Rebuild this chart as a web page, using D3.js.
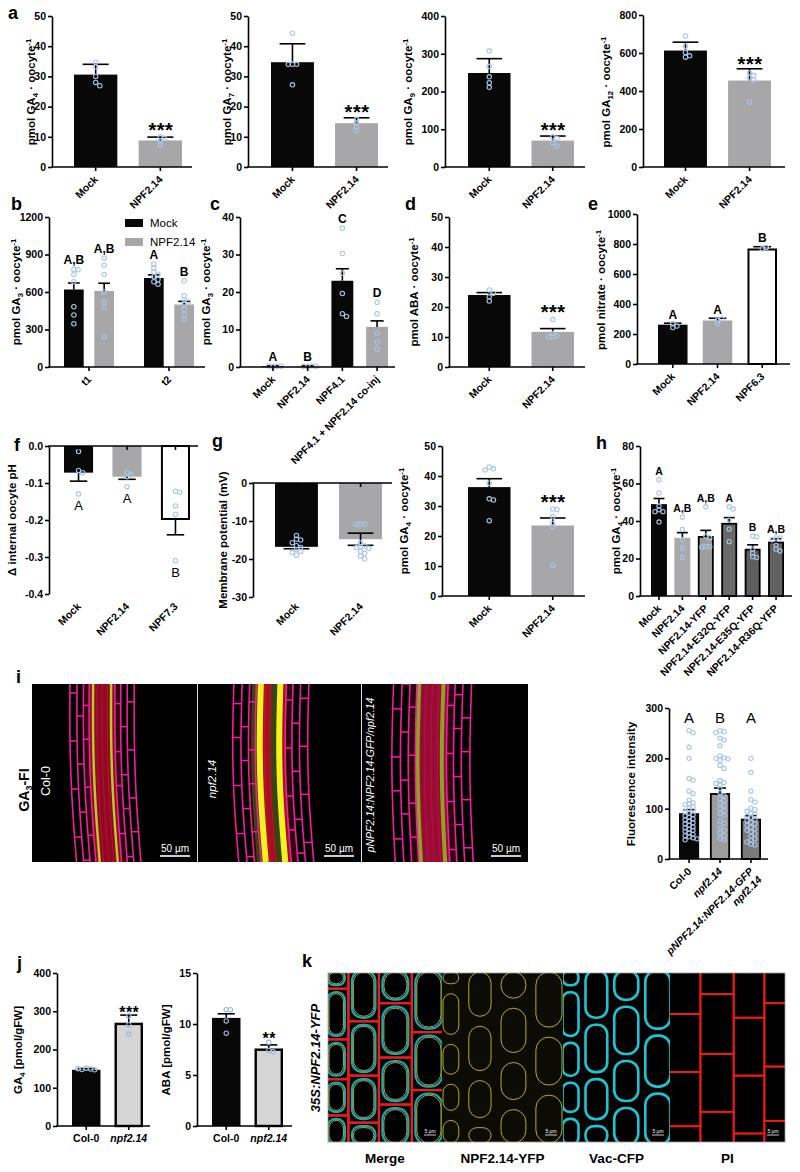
<!DOCTYPE html>
<html><head><meta charset="utf-8">
<script src="https://cdn.jsdelivr.net/npm/d3@7"></script>
<style>body{margin:0;background:#fff}</style>
</head><body><svg id="fig" width="800" height="1172"></svg>
<script>
// ---------------- DATA ----------------
const catsAB = ["Mock","NPF2.14"];
// panel a
const aGA4Means=[30.6,8.8], aGA4Err=[34,9.9], aGA4Dots=[[34.6,33.2,30,28,26.9],[10,9.5,8.7,7.3]];
const aGA7Means=[34.7,14.5], aGA7Err=[40.8,16.3], aGA7Dots=[[44.3,34,34,34,27.2],[15.8,14.6,13.3,12.1]];
const aGA9Means=[249,70], aGA9Err=[287,82], aGA9Dots=[[307,266,239,223,211],[80,76,64,55]];
const aGA12Means=[613,455], aGA12Err=[657,517], aGA12Dots=[[690,636,603,585,578],[495,481,470,458,342]];
// panel b
const bTimes=["t1","t2"], bSeries=["Mock","NPF2.14"];
const bMeans=[[620,608],[712,500]], bErr=[[672,670],[737,525]];
const bDots=[[[780,778,740,682,482,416,346],[870,815,740,600,520,480,245]],
             [[825,790,760,742,722,700,682,662],[690,570,540,520,500,460,420,380]]];
const bLetters=[["A,B","A,B"],["A","B"]];
// panel c
const cCats=["Mock","NPF2.14","NPF4.1","NPF4.1 + NPF2.14 co-inj"];
const cMeans=[0.2,0.2,23,10.7], cErr=[0.3,0.3,26.2,12.3];
const cDots=[[0.1,0.2,0.3,0.2],[0.1,0.3,0.2,0.2],[37,30.3,25,19.6,14.2,13.5],[17.2,14.2,9,6.6,4.8]];
const cLetters=["A","B","C","D"];
// panel d
const dMeans=[24,11.7], dErr=[24.8,12.8], dDots=[[25.7,24.6,23.4,22],[15.8,11.2,10.4,10.1,9.9]];
// panel e
const eCats=["Mock","NPF2.14","NPF6.3"];
const eMeans=[262,290,770], eErr=[272,305,782], eDots=[[243,253,268],[268,292,300],[768,776]];
const eLetters=["A","A","B"];
// panel f
const fCats=["Mock","NPF2.14","NPF7.3"];
const fMeans=[-0.072,-0.083,-0.2], fErr=[-0.095,-0.09,-0.24];
const fDots=[[-0.015,-0.066,-0.072,-0.13],[-0.072,-0.078,-0.083,-0.11],[-0.122,-0.125,-0.162,-0.185,-0.31]];
const fLetters=["A","A","B"];
// panel g
const gMeans=[-16.8,-14.8], gErrLo=[-17.3,-16.4], gErrHi=[-16.3,-13.2];
const gDots=[[-13.8,-14.8,-15,-15.7,-16.5,-17,-17.5,-18,-18.3,-19],[-10.8,-10.8,-10.9,-15.8,-16.6,-16.8,-17,-17.2,-18,-18.5,-19.2,-20]];
const g2Means=[36.3,23.5], g2Err=[39.1,26], g2Dots=[[43,42.4,42,37.6,32.4,32,25.1],[29,28.8,26.4,24.2,23,10.2]];
// panel h
const hCats=["Mock","NPF2.14","NPF2.14-YFP","NPF2.14-E32Q-YFP","NPF2.14-E35Q-YFP","NPF2.14-R36Q-YFP"];
const hMeans=[49,31,32,39,25.2,29], hErr=[52,33.8,35,41.8,27.3,30.5];
const hDots=[[62,55,48,46,45,45,39.5],[42,35.5,30,25.5,20.6],[47.6,32,31,26.5,26.3,26],[47.6,46.4,40.5,35.7,29],[32,31.6,25,23,21,20.5],[31,31,30,27,25,24]];
const hLetters=["A","A,B","A,B","A","B","A,B"];
// panel i (fluorescence)
const iCats=["Col-0","npf2.14","pNPF2.14:NPF2.14-GFP/npf2.14"];
const iMeans=[91,131,80], iErr=[98,141,86];
const iDots=[[255,251,222,200,160,157,135,130,117,112,110,108,104,100,97,94,91,88,86,83,80,78,75,72,70,67,64,62,59,57,55,52,49,46,44,42,40,38],
             [255,253,251,240,236,225,205,201,200,199,196,186,180,156,152,150,147,140,132,126,120,116,111,106,100,96,90,86,75,71,62,57,52,46,41,38],
             [200,172,135,118,113,101,98,95,91,88,85,82,79,76,73,70,67,63,60,57,54,50,45,40,37,34,30,28]];
const iLetters=["A","B","A"];
const iImageLabels=["Col-0","npf2.14","pNPF2.14:NPF2.14-GFP/npf2.14"];
// panel j
const jCats=["Col-0","npf2.14"];
const jGA4Means=[147,270], jGA4Err=[150,290], jGA4Dots=[[151,149,148,147,150],[288,265,240]];
const jABAMeans=[10.6,7.6], jABAErr=[11.0,7.95], jABADots=[[11.4,11.4,10.3,9.1],[8.2,7.4,7.3]];
// panel k
const kChannels=["Merge","NPF2.14-YFP","Vac-CFP","PI"];

// ---------------- HELPERS ----------------
const FONT="'Liberation Sans', Arial, Helvetica, sans-serif";
const BLACK="#080808", GRAY="#a7a7a9", DOT="#a9c5e6";
const svg=d3.select("#fig");
svg.append("rect").attr("width",800).attr("height",1172).attr("fill","#fff");

function txt(g,x,y,s,o={}){
  const t=g.append("text").attr("x",x).attr("y",y).text(s)
    .attr("font-family",FONT).attr("font-size",o.size||10.5)
    .attr("font-weight",o.weight||"bold").attr("fill",o.fill||"#000");
  if(o.anchor) t.attr("text-anchor",o.anchor);
  if(o.italic) t.attr("font-style","italic");
  if(o.spacing) t.attr("letter-spacing",o.spacing);
  if(o.rotate!=null) t.attr("transform",`rotate(${o.rotate},${x},${y})`);
  return t;
}
function yTitle(x,y,parts,size=11.5){
  const t=svg.append("text").attr("transform",`translate(${x},${y}) rotate(-90)`)
    .attr("text-anchor","middle").attr("font-family",FONT).attr("font-weight","bold").attr("font-size",size);
  let shift=0;
  parts.forEach(([s,k])=>{
    const want=k==="sub"?3:k==="sup"?-4:0;
    const ts=t.append("tspan").text(s).attr("dy",want-shift);
    if(k) ts.attr("font-size",size*0.68);
    shift=want;
  });
}
const pmol=n=>[["pmol GA",""],[n,"sub"],[" · oocyte",""],["-1","sup"]];
function yAxis(x0,y,ticks,fmt){
  const ax=d3.axisLeft(y).tickValues(ticks).tickSize(4).tickSizeOuter(0).tickPadding(2)
    .tickFormat(fmt||(d=>String(d)));
  const a=svg.append("g").attr("transform",`translate(${x0},0)`).call(ax);
  a.select(".domain").attr("stroke","#000").attr("stroke-width",1.6);
  a.selectAll(".tick line").attr("stroke","#000").attr("stroke-width",1.6);
  a.selectAll(".tick text").attr("font-size",10.5).attr("font-weight","bold").attr("font-family",FONT).attr("fill","#000");
}
function xLine(x0,x1,yy,centers){
  svg.append("line").attr("x1",x0-0.8).attr("x2",x1).attr("y1",yy).attr("y2",yy).attr("stroke","#000").attr("stroke-width",1.6);
  centers.forEach(c=>svg.append("line").attr("x1",c).attr("x2",c).attr("y1",yy).attr("y2",yy+4).attr("stroke","#000").attr("stroke-width",1.6));
}
function drawBar(x,w,y,y0,v,fill,stroke,sw){
  const yt=Math.min(y(v),y0), h=Math.abs(y(v)-y0);
  if(stroke){
    svg.append("rect").attr("x",x+sw/2).attr("y",v>=0?yt+sw/2:yt).attr("width",w-sw)
      .attr("height",Math.max(h-sw/2,0)).attr("fill",fill).attr("stroke",stroke).attr("stroke-width",sw);
  } else svg.append("rect").attr("x",x).attr("y",yt).attr("width",w).attr("height",Math.max(h,0.6)).attr("fill",fill);
}
function drawErr(cx,capW,ya,yb,bothCaps){
  svg.append("line").attr("x1",cx).attr("x2",cx).attr("y1",ya).attr("y2",yb).attr("stroke","#000").attr("stroke-width",1.6);
  svg.append("line").attr("x1",cx-capW/2).attr("x2",cx+capW/2).attr("y1",yb).attr("y2",yb).attr("stroke","#000").attr("stroke-width",1.6);
  if(bothCaps) svg.append("line").attr("x1",cx-capW/2).attr("x2",cx+capW/2).attr("y1",ya).attr("y2",ya).attr("stroke","#000").attr("stroke-width",1.6);
}
function drawDots(vals,cx,y,r,maxW,color){
  const placed=[], d=r*1.9;
  vals.forEach(v=>{
    const yy=y(v); let best=cx;
    for(let k=0;k<40;k++){
      const off=(k%2?1:-1)*Math.ceil(k/2)*d;
      if(Math.abs(off)>maxW) continue;
      const xx=cx+off;
      if(placed.every(p=>Math.hypot(p[0]-xx,p[1]-yy)>=r*1.6)){best=xx;break;}
    }
    placed.push([best,yy]);
    svg.append("circle").attr("cx",best).attr("cy",yy).attr("r",r).attr("fill","none")
      .attr("stroke",color||DOT).attr("stroke-width",1.1);
  });
}
function catLabel(x,y,s,o={}){
  return txt(svg,x,y,s,Object.assign({size:10.5,anchor:"end",rotate:-45},o));
}

// generic panel
function panel(p){
  const y=d3.scaleLinear().domain(p.domain).range(p.yRange);
  const x=d3.scaleBand().domain(p.cats).range(p.band).paddingInner(p.pad).paddingOuter(0);
  const bw=x.bandwidth(), y0=y(0), r=p.r||2.2;
  const centers=p.cats.map(c=>x(c)+bw/2);
  p.cats.forEach((c,i)=>{
    drawBar(x(c),bw,y,y0,p.means[i],p.fills[i],p.strokes?p.strokes[i]:null,p.sw||1.8);
  });
  p.cats.forEach((c,i)=>{
    const cx=centers[i], capW=p.capW||bw*0.6;
    if(p.errLo) drawErr(cx,capW,y(p.errLo[i]),y(p.errHi[i]),true);
    else drawErr(cx,capW,y(p.means[i]),y(p.err[i]),false);
    drawDots(p.dots[i],cx,y,r,p.spread||bw*0.45,p.dotColor);
  });
  yAxis(p.axisX,y,p.ticks,p.fmt);
  xLine(p.axisX,p.xEnd,y0,centers);
  // letters / stars
  p.cats.forEach((c,i)=>{
    const cx=centers[i];
    const top=Math.min(y(p.err?p.err[i]:p.errHi[i]),y(d3.max(p.dots[i]))-r);
    if(p.letters){
      if(p.letterMode==="below"){
        const bot=Math.max(y(p.err[i]),y(d3.min(p.dots[i]))+r);
        txt(svg,cx,bot+14,p.letters[i],{anchor:"middle",size:p.letterSize||13,weight:p.letterWeight||"normal"});
      } else if(p.letterMode==="fixed"){
        txt(svg,cx,p.letterY,p.letters[i],{anchor:"middle",size:p.letterSize||14,weight:"normal"});
      } else {
        txt(svg,cx,top-3,p.letters[i],{anchor:"middle",size:p.letterSize||12});
      }
    }
    if(p.stars && p.stars[i]) txt(svg,cx+0.5,top+(p.starShift!=null?p.starShift:2),p.stars[i],{anchor:"middle",size:p.starSize||20,spacing:p.starSpacing!=null?p.starSpacing:0.5});
  });
  // categories
  p.cats.forEach((c,i)=>{
    const lab=p.catLabels?p.catLabels[i]:c;
    if(p.catMode==="flat") txt(svg,centers[i],y0+16,lab,{anchor:"middle",size:10.5,italic:p.catItalic&&p.catItalic[i]});
    else {
      const yy=p.catY!=null?p.catY:y0+13;
      catLabel(centers[i]+3,yy,lab,{italic:p.catItalic&&p.catItalic[i]});
    }
  });
  yTitle(p.titleX,p.titleY,p.title,p.titleSize||11.5);
  return {x,y,centers};
}
function letter(x,y,s){ txt(svg,x,y,s,{size:18}); }

// ---------------- PANEL a ----------------
const fillsMG=[BLACK,GRAY];
letter(8,19,"a");
panel({axisX:52,xEnd:192,yRange:[167,16],domain:[0,50],ticks:[0,10,20,30,40,50],band:[74,182],pad:0.33,
  cats:catsAB,means:aGA4Means,err:aGA4Err,dots:aGA4Dots,fills:fillsMG,stars:[null,"***"],
  titleX:35,titleY:92,title:pmol("4")});
panel({axisX:248,xEnd:388,yRange:[167,16],domain:[0,50],ticks:[0,10,20,30,40,50],band:[271,378],pad:0.33,
  cats:catsAB,means:aGA7Means,err:aGA7Err,dots:aGA7Dots,fills:fillsMG,stars:[null,"***"],
  titleX:231,titleY:92,title:pmol("7")});
panel({axisX:445,xEnd:585,yRange:[167,16],domain:[0,400],ticks:[0,100,200,300,400],band:[468,574],pad:0.33,
  cats:catsAB,means:aGA9Means,err:aGA9Err,dots:aGA9Dots,fills:fillsMG,stars:[null,"***"],
  titleX:412,titleY:92,title:pmol("9")});
panel({axisX:643,xEnd:785,yRange:[167,15],domain:[0,800],ticks:[0,200,400,600,800],band:[664,771],pad:0.33,
  cats:catsAB,means:aGA12Means,err:aGA12Err,dots:aGA12Dots,fills:fillsMG,stars:[null,"***"],
  titleX:610,titleY:92,title:pmol("12")});

// ---------------- PANEL b ----------------
letter(11,210,"b");
(function(){
  const y=d3.scaleLinear().domain([0,1200]).range([367,217]);
  const x0=d3.scaleBand().domain(bTimes).range([64,194]).paddingInner(0.375);
  const x1=d3.scaleBand().domain(bSeries).range([0,x0.bandwidth()]).paddingInner(0.35);
  const bw=x1.bandwidth(), r=2.2;
  bTimes.forEach((t,gi)=>bSeries.forEach((s,si)=>{
    const xx=x0(t)+x1(s);
    drawBar(xx,bw,y,y(0),bMeans[gi][si],si?GRAY:BLACK);
  }));
  bTimes.forEach((t,gi)=>bSeries.forEach((s,si)=>{
    const cx=x0(t)+x1(s)+bw/2;
    drawErr(cx,bw*0.6,y(bMeans[gi][si]),y(bErr[gi][si]));
    drawDots(bDots[gi][si],cx,y,r,bw*0.45);
    const top=Math.min(y(bErr[gi][si]),y(d3.max(bDots[gi][si]))-r);
    txt(svg,cx,top-3,bLetters[gi][si],{anchor:"middle",size:12});
  }));
  yAxis(49,y,[0,300,600,900,1200]);
  xLine(49,205,y(0),bTimes.map(t=>x0(t)+x0.bandwidth()/2));
  bTimes.forEach(t=>catLabel(x0(t)+x0.bandwidth()/2+3,y(0)+13,t));
  yTitle(20,292,pmol("3"));
  // legend
  bSeries.forEach((s,i)=>{
    svg.append("rect").attr("x",125).attr("y",219+i*19).attr("width",18).attr("height",8).attr("fill",i?GRAY:BLACK);
    txt(svg,150,227+i*19,s,{size:11.5,weight:"normal"});
  });
})();

// ---------------- PANEL c ----------------
letter(210,210,"c");
panel({axisX:240,xEnd:395,yRange:[367,217],domain:[0,40],ticks:[0,10,20,30,40],band:[262,388],pad:0.37,
  cats:cCats,means:cMeans,err:cErr,dots:cDots,fills:[BLACK,GRAY,BLACK,GRAY],letters:cLetters,spread:12,
  titleX:210,titleY:292,title:pmol("3")});

// ---------------- PANEL d ----------------
letter(405,210,"d");
panel({axisX:449,xEnd:585,yRange:[367,217],domain:[0,50],ticks:[0,10,20,30,40,50],band:[468,574],pad:0.33,
  cats:catsAB,means:dMeans,err:dErr,dots:dDots,fills:fillsMG,stars:[null,"***"],
  titleX:418,titleY:292,title:[["pmol ABA · oocyte",""],["-1","sup"]]});

// ---------------- PANEL e ----------------
letter(588,210,"e");
panel({axisX:637,xEnd:790,yRange:[364,214],domain:[0,1000],ticks:[0,200,400,600,800,1000],band:[658,777],pad:0.34,
  cats:eCats,means:eMeans,err:eErr,dots:eDots,fills:[BLACK,GRAY,"#fff"],strokes:[null,null,"#000"],sw:2,letters:eLetters,
  titleX:605,titleY:290,title:[["pmol nitrate · oocyte",""],["-1","sup"]]});

// ---------------- PANEL f ----------------
letter(14,451,"f");
panel({axisX:49,xEnd:198,yRange:[594,446],domain:[-0.4,0],ticks:[0,-0.1,-0.2,-0.3,-0.4],
  fmt:d=>d3.format(".1f")(d).replace("−","-"),band:[64,190],pad:0.4,
  cats:fCats,means:fMeans,err:fErr,dots:fDots,fills:[BLACK,GRAY,"#fff"],strokes:[null,null,"#000"],sw:2,
  letters:fLetters,letterMode:"below",catY:607,
  titleX:16,titleY:520,title:[["Δ internal oocyte pH",""]]});

// ---------------- PANEL g ----------------
letter(212,447,"g");
panel({axisX:253,xEnd:392,yRange:[597,483],domain:[-30,0],ticks:[0,-10,-20,-30],band:[275,382],pad:0.33,
  cats:catsAB,means:gMeans,errLo:gErrLo,errHi:gErrHi,dots:gDots,fills:fillsMG,catY:607,
  titleX:227,titleY:540,title:[["Membrane potential (mV)",""]]});
panel({axisX:442,xEnd:585,yRange:[596,446],domain:[0,50],ticks:[0,10,20,30,40,50],band:[468,574],pad:0.33,
  cats:catsAB,means:g2Means,err:g2Err,dots:g2Dots,fills:fillsMG,stars:[null,"***"],
  titleX:408,titleY:521,title:pmol("4")});

// ---------------- PANEL h ----------------
letter(596,449,"h");
panel({axisX:640,xEnd:792,yRange:[596,446],domain:[0,80],ticks:[0,20,40,60,80],band:[651,784],pad:0.32,
  cats:hCats,means:hMeans,err:hErr,dots:hDots,
  fills:[BLACK,"#a9a9ab","#9e9e9e","#696969","#5e5e5e","#616161"],strokes:[null,null,"#000","#000","#000","#000"],sw:1.8,
  letters:hLetters,letterSize:10.5,capW:11,r:2.1,
  titleX:620,titleY:521,title:pmol("4")});

// ---------------- PANEL i ----------------
letter(16,683,"i");
const rootWalls=[0,0.11,0.21,0.3,0.7,0.79,0.89,1];
function rootImage(ix,iy,w,h,o){
  const g=svg.append("g").attr("transform",`translate(${ix},${iy})`);
  const id="clip"+Math.round(ix);
  g.append("clipPath").attr("id",id).append("rect").attr("width",w).attr("height",h);
  g.append("rect").attr("width",w).attr("height",h).attr("fill","#000");
  const c=g.append("g").attr("clip-path",`url(#${id})`);
  const X=(f,t)=>(o.left+(o.right-o.left)*f)*w+o.tilt*w*t+o.bend*w*Math.sin(Math.PI*t);
  const Y=t=>t*h;
  const ts=d3.range(0,1.0001,0.1);
  const line=d3.line().curve(d3.curveBasis);
  const band=(f0,f1,col)=>{
    const poly=ts.map(t=>[X(f0,t),Y(t)]).concat(ts.slice().reverse().map(t=>[X(f1,t),Y(t)]));
    c.append("path").attr("d",d3.line()(poly)+"Z").attr("fill",col);
  };
  band(0.21,0.3,"#2a040e"); band(0.7,0.79,"#2a040e");
  band(0.3,0.7,o.stele);
  [0.42,0.5,0.58].forEach(f=>c.append("path").attr("d",line(ts.map(t=>[X(f,t),Y(t)])))
    .attr("stroke","#e0103a").attr("stroke-width",1).attr("fill","none").attr("opacity",0.6));
  if(o.olive) o.yellow.forEach(f=>c.append("path").attr("d",line(ts.map(t=>[X(f-0.06,t),Y(t)])))
      .attr("stroke",o.olive).attr("stroke-width",o.yw*1.4).attr("fill","none"));
  o.yellow.forEach(f=>c.append("path").attr("d",line(ts.map(t=>[X(f,t),Y(t)])))
    .attr("stroke",o.ycol).attr("stroke-width",o.yw).attr("fill","none"));
  rootWalls.forEach(f=>c.append("path").attr("d",line(ts.map(t=>[X(f,t),Y(t)])))
    .attr("stroke","#f41c9c").attr("stroke-width",1.6).attr("fill","none"));
  for(let k=0;k<rootWalls.length-1;k++){
    if(rootWalls[k]>=0.3&&rootWalls[k]<0.7) continue;
    for(let j=0;j<4;j++){
      const t=(j*0.27+k*0.13+o.phase)%1;
      c.append("line").attr("x1",X(rootWalls[k],t)).attr("x2",X(rootWalls[k+1],t)).attr("y1",Y(t)).attr("y2",Y(t))
        .attr("stroke","#f41c9c").attr("stroke-width",1.5);
    }
  }
  // scale bar
  g.append("line").attr("x1",w-37).attr("x2",w-7).attr("y1",h-6).attr("y2",h-6).attr("stroke","#fff").attr("stroke-width",1.6);
  txt(g,w-22,h-10,"50 µm",{fill:"#fff",size:10,weight:"normal",anchor:"middle"});
  return g;
}
const iImgY=684, iImgH=178;
rootImage(32,iImgY,165,iImgH,{left:0.23,right:0.62,tilt:0.04,bend:-0.015,stele:"#8e0a22",yellow:[0.36,0.64],ycol:"#b8cc24",yw:2.5,phase:0.05});
rootImage(198,iImgY,163,iImgH,{left:0.22,right:0.68,tilt:0.03,bend:-0.02,stele:"#a80e22",yellow:[0.36,0.62],ycol:"#f2f21e",yw:6,olive:"#3a4410",phase:0.3});
rootImage(362,iImgY,166,iImgH,{left:0.19,right:0.66,tilt:0.01,bend:-0.015,stele:"#960c36",yellow:[0.33,0.64],ycol:"#8ea224",yw:4,phase:0.6});
svg.append("line").attr("x1",197.5).attr("x2",197.5).attr("y1",iImgY).attr("y2",iImgY+iImgH).attr("stroke","#ddd").attr("stroke-width",1);
svg.append("line").attr("x1",361.5).attr("x2",361.5).attr("y1",iImgY).attr("y2",iImgY+iImgH).attr("stroke","#ddd").attr("stroke-width",1);
txt(svg,50,781,iImageLabels[0],{fill:"#fff",size:12.5,weight:"normal",anchor:"middle",rotate:-90});
txt(svg,216,779,iImageLabels[1],{fill:"#fff",size:11.5,weight:"normal",anchor:"middle",rotate:-90,italic:true});
txt(svg,374,775,iImageLabels[2],{fill:"#fff",size:10.5,weight:"normal",anchor:"middle",rotate:-90,italic:true});
(function(){
  const t=svg.append("text").attr("transform","translate(29,790) rotate(-90)").attr("text-anchor","middle")
    .attr("font-family",FONT).attr("font-weight","bold").attr("font-size",14);
  t.append("tspan").text("GA");
  t.append("tspan").text("3").attr("font-size",9).attr("dy",3);
  t.append("tspan").text("-FI").attr("dy",-3);
})();
(function(){
  const p=panel({axisX:669,xEnd:768,yRange:[859,708],domain:[0,300],ticks:[0,100,200,300],band:[679,761],pad:0.35,
    cats:iCats,catLabels:["Col-0","npf2.14","pNPF2.14:NPF2.14-GFP"],catItalic:[false,true,true],
    means:iMeans,err:iErr,dots:iDots,fills:[BLACK,"#9c9c9c","#7a7a7a"],strokes:[null,"#000","#000"],sw:1.8,
    letters:iLetters,letterMode:"fixed",letterY:723,letterSize:15,r:2.1,spread:10,capW:12,
    titleX:635,titleY:784,title:[["Fluorescence intensity",""]]});
  // second line of third label, right-aligned under the first line
  const cx=p.centers[2]+3, yy=859+13, off=12, s=Math.SQRT1_2;
  txt(svg,cx+off*s,yy+off*s,"npf2.14",{anchor:"end",rotate:-45,italic:true});
})();

// ---------------- PANEL j ----------------
letter(17,969,"j");
panel({axisX:57,xEnd:150,yRange:[1126,973],domain:[0,400],ticks:[0,100,200,300,400],band:[72,143],pad:0.33,
  cats:jCats,means:jGA4Means,err:jGA4Err,dots:jGA4Dots,fills:[BLACK,"#d5d5d5"],strokes:[null,"#000"],sw:2.4,
  stars:[null,"***"],starSize:16,starShift:4,starSpacing:0.5,catMode:"flat",catItalic:[false,true],dotColor:"#9fb8d8",
  titleX:22,titleY:1050,title:[["GA",""],["4","sub"],[" [pmol/gFW]",""]]});
panel({axisX:197,xEnd:292,yRange:[1126,973],domain:[0,15],ticks:[0,5,10,15],band:[212,283],pad:0.33,
  cats:jCats,means:jABAMeans,err:jABAErr,dots:jABADots,fills:[BLACK,"#d5d5d5"],strokes:[null,"#000"],sw:2.4,
  stars:[null,"**"],starSize:16,starShift:4,starSpacing:0.5,catMode:"flat",catItalic:[false,true],dotColor:"#9fb8d8",
  titleX:170,titleY:1050,title:[["ABA [pmol/gFW]",""]]});

// ---------------- PANEL k ----------------
letter(302,967,"k");
const kCells=[[0,0.2,[0,0.12,0.4,0.62,0.82,1]],[0.2,0.45,[0,0.3,0.6,0.86,1]],[0.45,0.72,[0,0.2,0.5,0.76,1]],[0.72,1,[0,0.36,0.68,1]]];
const kPI=[[0,0.28,[0,0.26,0.58,0.88,1]],[0.28,0.55,[0,0.15,0.48,0.8,1]],[0.55,0.8,[0,0.28,0.6,0.92,1]],[0.8,1,[0,0.2,0.55,0.85,1]]];
function kImage(ix,iy,w,h,ch){
  const g=svg.append("g").attr("transform",`translate(${ix},${iy})`);
  const id="kclip"+ch;
  g.append("clipPath").attr("id",id).append("rect").attr("width",w).attr("height",h);
  g.append("rect").attr("width",w).attr("height",h).attr("fill",ch===1?"#0c0c04":"#000");
  const c=g.append("g").attr("clip-path",`url(#${id})`);
  const sx=d3.scaleLinear().domain([0,1]).range([-4,w+4]);
  const sy=d3.scaleLinear().domain([0,1]).range([-6,h+6]);
  const cells=ch===3?kPI:kCells;
  cells.forEach(([x0,x1,rows])=>{
    for(let i=0;i<rows.length-1;i++){
      const X0=sx(x0),X1=sx(x1),Y0=sy(rows[i]),Y1=sy(rows[i+1]);
      if(ch===0||ch===3){
        c.append("rect").attr("x",X0).attr("y",Y0).attr("width",X1-X0).attr("height",Y1-Y0)
          .attr("fill","none").attr("stroke","#f01a1a").attr("stroke-width",ch===3?1.8:2.2);
      }
      const ins=3.5, wd=X1-X0-2*ins, hg=Y1-Y0-2*ins;
      if(wd<=0||hg<=0) continue;
      if(ch===0||ch===2){
        c.append("rect").attr("x",X0+ins).attr("y",Y0+ins).attr("width",wd).attr("height",hg).attr("rx",Math.min(wd,hg)*0.45)
          .attr("fill","none").attr("stroke","#1fc4d2").attr("stroke-width",ch===2?2.6:2.2).attr("opacity",ch===2?1:0.85);
      }
      if(ch===0||ch===1){
        c.append("rect").attr("x",X0+ins+1.5).attr("y",Y0+ins+1.5).attr("width",wd-3).attr("height",hg-3).attr("rx",Math.min(wd,hg)*0.45)
          .attr("fill","none").attr("stroke","#c8be22").attr("stroke-width",0.9);
      }
    }
  });
  g.append("line").attr("x1",w-18).attr("x2",w-6).attr("y1",h-7).attr("y2",h-7).attr("stroke","#fff").attr("stroke-width",0.8);
  txt(g,w-12,h-9,"5 µm",{fill:"#fff",size:5,weight:"normal",anchor:"middle"});
}
const kX=[328,442,563,670,785];
kChannels.forEach((ch,i)=>{
  kImage(kX[i],973,kX[i+1]-kX[i],169,i);
  txt(svg,(kX[i]+kX[i+1])/2,1163,ch,{size:13.5,anchor:"middle"});
});
svg.append("rect").attr("x",328).attr("y",973).attr("width",457).attr("height",169).attr("fill","none").attr("stroke","#999").attr("stroke-width",0.8);
txt(svg,320,1058,"35S:NPF2.14-YFP",{size:13,anchor:"middle",rotate:-90,italic:true});
</script></body></html>
